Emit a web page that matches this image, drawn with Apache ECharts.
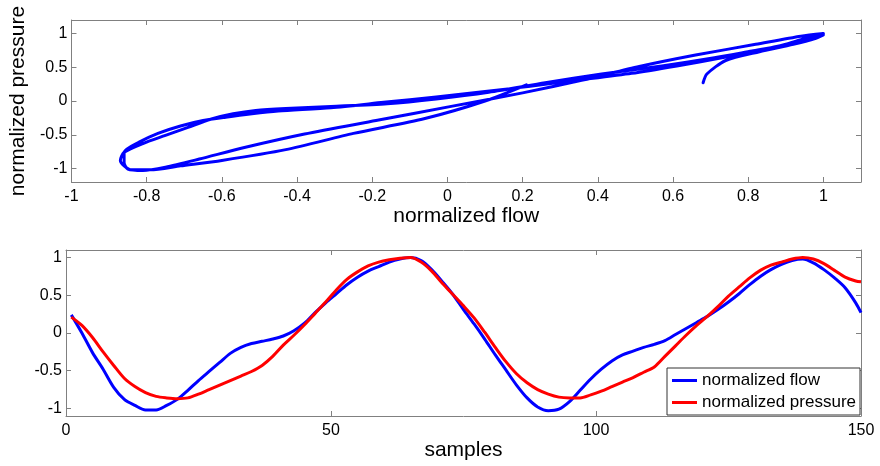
<!DOCTYPE html>
<html>
<head>
<meta charset="utf-8">
<script src="https://cdn.jsdelivr.net/npm/echarts@6/dist/echarts.min.js"></script>
<style>
    html, body { margin: 0; padding: 0; background: #fff; }
    #chart { width: 880px; height: 466px; }
</style>
</head>
<body>
<div id="chart"></div>
<script>
"use strict";

// sample index (every other sample)
var samples = [1, 3, 5, 7, 9, 11, 13, 15, 17, 19, 21, 23, 25, 27, 29, 31, 33, 35, 37, 39,
    41, 43, 45, 47, 49, 51, 53, 55, 57, 59, 61, 63, 65, 67, 69, 71, 73, 75, 77, 79,
    81, 83, 85, 87, 89, 91, 93, 95, 97, 99, 101, 103, 105, 107, 109, 111, 113, 115, 117, 119,
    121, 123, 125, 127, 129, 131, 133, 135, 137, 139, 141, 143, 145, 147, 149, 150];

var flow = [0.24, 0.00, -0.26, -0.48, -0.72, -0.88, -0.96, -1.02, -1.02, -0.96,
    -0.88, -0.76, -0.63, -0.51, -0.39, -0.27, -0.19, -0.14, -0.11, -0.08,
    -0.04, 0.03, 0.13, 0.27, 0.40, 0.52, 0.64, 0.74, 0.82, 0.88,
    0.94, 0.98, 1.00, 0.96, 0.84, 0.68, 0.51, 0.31, 0.12, -0.08,
    -0.29, -0.49, -0.69, -0.86, -0.98, -1.03, -1.01, -0.91, -0.76, -0.61,
    -0.48, -0.37, -0.29, -0.24, -0.19, -0.15, -0.10, -0.02, 0.06, 0.14,
    0.22, 0.31, 0.41, 0.52, 0.64, 0.75, 0.84, 0.91, 0.96, 0.98,
    0.93, 0.84, 0.73, 0.60, 0.40, 0.27];

var pressure = [0.21, 0.10, -0.06, -0.25, -0.43, -0.60, -0.71, -0.79, -0.84, -0.86,
    -0.87, -0.86, -0.81, -0.75, -0.69, -0.63, -0.57, -0.51, -0.43, -0.31,
    -0.16, -0.03, 0.11, 0.26, 0.41, 0.57, 0.71, 0.81, 0.89, 0.94,
    0.97, 0.99, 1.00, 0.94, 0.82, 0.66, 0.51, 0.36, 0.20, 0.01,
    -0.19, -0.38, -0.54, -0.66, -0.75, -0.81, -0.85, -0.86, -0.86, -0.82,
    -0.77, -0.71, -0.65, -0.59, -0.52, -0.45, -0.31, -0.17, -0.03, 0.10,
    0.22, 0.35, 0.49, 0.61, 0.73, 0.83, 0.90, 0.94, 0.98, 1.00,
    0.98, 0.92, 0.83, 0.74, 0.69, 0.68];

var loopXTicks = [-1, -0.8, -0.6, -0.4, -0.2, 0, 0.2, 0.4, 0.6, 0.8, 1];
var loopYTicks = [-1, -0.5, 0, 0.5, 1];
var sampleTicks = [0, 50, 100, 150];
var waveYTicks = [-1, -0.5, 0, 0.5, 1];

var FONT = '"Liberation Sans", Arial, sans-serif';
var BOX = '#808080';

// one side of the matlab style box: line + inward ticks, labels only on bottom/left
function boxAxis(grid, pos, min, max, ticks, showLabels) {
    return {
        gridIndex: grid,
        type: 'value',
        position: pos,
        min: min,
        max: max,
        axisLine: {show: true, onZero: false, lineStyle: {color: BOX, width: 1}},
        axisTick: {show: true, inside: true, length: 5, customValues: ticks, lineStyle: {color: BOX}},
        axisLabel: {
            show: showLabels,
            customValues: ticks,
            color: '#000',
            fontSize: 16,
            fontFamily: FONT,
            margin: (pos === 'left') ? 4 : 7
        },
        splitLine: {show: false}
    };
}

var loopPoints = pressure.map(function (p, i) { return [p, flow[i]]; });
var flowPoints = samples.map(function (s, i) { return [s, flow[i]]; });
var pressurePoints = samples.map(function (s, i) { return [s, pressure[i]]; });

var loopX = boxAxis(0, 'bottom', -1, 1.1, loopXTicks, true);
loopX.name = 'normalized flow';
loopX.nameLocation = 'middle';
loopX.nameGap = 24;
loopX.nameTextStyle = {fontSize: 21, color: '#000', fontFamily: FONT};

var loopY = boxAxis(0, 'left', -1.2, 1.2, loopYTicks, true);
loopY.name = 'normalized pressure';
loopY.nameLocation = 'middle';
loopY.nameGap = 38;
loopY.nameTextStyle = {fontSize: 21, color: '#000', fontFamily: FONT};

var waveX = boxAxis(1, 'bottom', 0, 150, sampleTicks, true);
waveX.name = 'samples';
waveX.nameLocation = 'middle';
waveX.nameGap = 24;
waveX.nameTextStyle = {fontSize: 21, color: '#000', fontFamily: FONT};

var chart = echarts.init(document.getElementById('chart'));
chart.setOption({
    animation: false,
    backgroundColor: '#fff',
    grid: [
        {left: 66, top: 20, width: 795, height: 162},
        {left: 66, top: 250, width: 795, height: 166}
    ],
    xAxis: [
        loopX,
        boxAxis(0, 'top', -1, 1.1, loopXTicks, false),
        waveX,
        boxAxis(1, 'top', 0, 150, sampleTicks, false)
    ],
    yAxis: [
        loopY,
        boxAxis(0, 'right', -1.2, 1.2, loopYTicks, false),
        boxAxis(1, 'left', -1.1, 1.1, waveYTicks, true),
        boxAxis(1, 'right', -1.1, 1.1, waveYTicks, false)
    ],
    legend: {
        data: ['normalized flow', 'normalized pressure'],
        orient: 'vertical',
        left: 667,
        top: 368,
        padding: [4, 4, 4, 5],
        itemGap: 5,
        itemWidth: 25,
        itemHeight: 3,
        icon: 'rect',
        backgroundColor: '#fff',
        borderColor: '#333',
        borderWidth: 1,
        borderRadius: 0,
        textStyle: {fontSize: 17, color: '#000', fontFamily: FONT}
    },
    series: [{
        type: 'line',
        xAxisIndex: 0,
        yAxisIndex: 0,
        data: loopPoints,
        symbol: 'none',
        smooth: 0.25,
        lineStyle: {color: '#0000ff', width: 3, join: 'round', cap: 'round'},
        itemStyle: {color: '#0000ff'}
    }, {
        name: 'normalized flow',
        type: 'line',
        xAxisIndex: 2,
        yAxisIndex: 2,
        data: flowPoints,
        symbol: 'none',
        smooth: 0.3,
        lineStyle: {color: '#0000ff', width: 3},
        itemStyle: {color: '#0000ff'}
    }, {
        name: 'normalized pressure',
        type: 'line',
        xAxisIndex: 2,
        yAxisIndex: 2,
        data: pressurePoints,
        symbol: 'none',
        smooth: 0.3,
        lineStyle: {color: '#ff0000', width: 3},
        itemStyle: {color: '#ff0000'}
    }]
});
</script>
</body>
</html>
